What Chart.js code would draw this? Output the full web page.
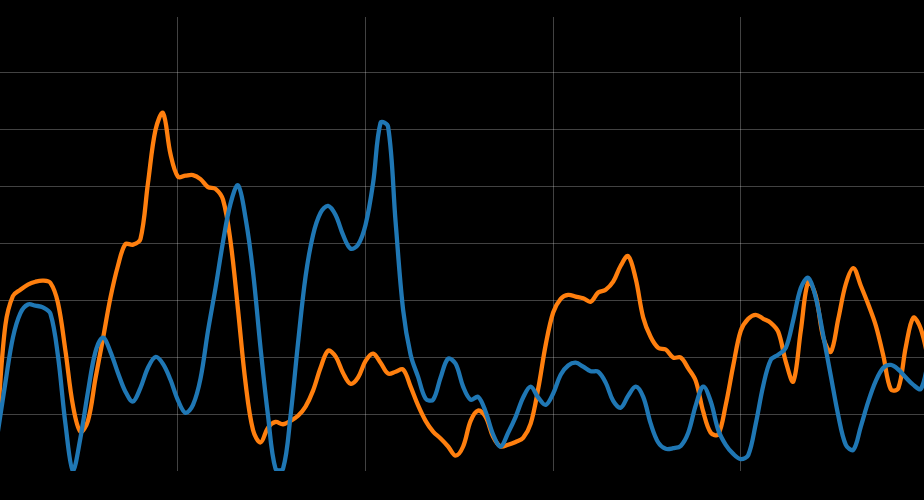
<!DOCTYPE html>
<html>
<head>
<meta charset="utf-8">
<script src="https://cdn.jsdelivr.net/npm/chart.js@4"></script>
<style>
  html, body { margin: 0; padding: 0; background: #000; }
  #wrap { width: 924px; height: 500px; }
</style>
</head>
<body>
<div id="wrap"><canvas id="lineChart" width="924" height="500"></canvas></div>
<script>
// time steps 1..125
const steps = Array.from({ length: 125 }, (_, i) => i + 1);

const blueSeries = [
  -3.30, -2.44, -1.65, -1.22, -1.07, -1.09, -1.12, -1.23, -1.97, -3.16,
  -3.99, -3.41, -2.60, -1.90, -1.65, -1.90, -2.27, -2.60, -2.77, -2.53,
  -2.18, -1.99, -2.11, -2.39, -2.75, -2.97, -2.83, -2.37, -1.53, -0.78,
  0.03, 0.70, 1.02, 0.45, -0.50, -1.83, -3.02, -3.95, -3.95, -3.02,
  -1.74, -0.58, 0.15, 0.54, 0.66, 0.50, 0.15, -0.09, -0.02, 0.33,
  1.06, 2.12, 2.05, 0.38, -1.16, -1.95, -2.34, -2.72, -2.74, -2.35,
  -2.02, -2.11, -2.51, -2.74, -2.69, -2.95, -3.35, -3.56, -3.32, -3.04,
  -2.70, -2.51, -2.70, -2.83, -2.63, -2.30, -2.14, -2.09, -2.16, -2.24,
  -2.25, -2.44, -2.76, -2.88, -2.67, -2.51, -2.69, -3.16, -3.49, -3.60,
  -3.59, -3.55, -3.32, -2.84, -2.51, -2.77, -3.27, -3.53, -3.69, -3.78,
  -3.71, -3.16, -2.49, -2.04, -1.95, -1.83, -1.34, -0.78, -0.60, -0.95,
  -1.62, -2.32, -3.02, -3.53, -3.62, -3.21, -2.77, -2.41, -2.18, -2.13,
  -2.21, -2.35, -2.48, -2.55, -2.07
];

const orangeSeries = [
  -3.00, -1.43, -0.92, -0.81, -0.72, -0.67, -0.65, -0.69, -1.04, -1.88,
  -2.84, -3.30, -3.11, -2.37, -1.67, -0.95, -0.39, -0.01, -0.02, 0.08,
  1.06, 1.99, 2.29, 1.57, 1.17, 1.19, 1.20, 1.13, 0.99, 0.96,
  0.77, 0.04, -1.16, -2.44, -3.27, -3.49, -3.23, -3.13, -3.17, -3.11,
  -3.02, -2.86, -2.58, -2.18, -1.88, -1.98, -2.27, -2.46, -2.35, -2.06,
  -1.93, -2.09, -2.28, -2.25, -2.21, -2.51, -2.84, -3.11, -3.30, -3.42,
  -3.56, -3.72, -3.56, -3.11, -2.93, -3.04, -3.39, -3.56, -3.53, -3.48,
  -3.41, -3.16, -2.55, -1.78, -1.21, -0.97, -0.90, -0.93, -0.96, -1.02,
  -0.86, -0.81, -0.67, -0.39, -0.22, -0.62, -1.30, -1.64, -1.83, -1.86,
  -2.00, -2.00, -2.19, -2.41, -2.95, -3.32, -3.35, -2.83, -2.14, -1.53,
  -1.32, -1.25, -1.32, -1.39, -1.55, -2.07, -2.42, -1.53, -0.67, -0.92,
  -1.65, -1.90, -1.32, -0.71, -0.43, -0.74, -1.07, -1.44, -1.97, -2.56,
  -2.54, -1.81, -1.30, -1.50, -2.04
];

const xTicks = [25, 50, 75, 100];
const yTicks = [-3, -2, -1, 0, 1, 2, 3];

const gridColor = "rgba(255,255,255,0.26)";

const ctx = document.getElementById("lineChart").getContext("2d");
const chart = new Chart(ctx, {
  type: "line",
  data: {
    datasets: [
      {
        data: steps.map((t, i) => ({ x: t, y: blueSeries[i] })),
        borderColor: "#1f77b4",
        borderWidth: 4.3,
        pointRadius: 0,
        tension: 0.35,
      },
      {
        data: steps.map((t, i) => ({ x: t, y: orangeSeries[i] })),
        borderColor: "#ff7f0e",
        borderWidth: 4.3,
        pointRadius: 0,
        tension: 0.35,
      },
    ],
  },
  options: {
    responsive: false,
    animation: false,
    layout: { padding: { top: 17, bottom: 29, left: 0, right: 0 } },
    plugins: {
      legend: { display: false },
      tooltip: { enabled: false },
    },
    scales: {
      x: {
        type: "linear",
        min: 1.28,
        max: 124.42,
        afterBuildTicks: (s) => { s.ticks = xTicks.map((v) => ({ value: v })); },
        ticks: { display: false },
        grid: { color: gridColor, lineWidth: 1, drawTicks: false },
        border: { display: false },
      },
      y: {
        min: -3.99,
        max: 3.973,
        afterBuildTicks: (s) => { s.ticks = yTicks.map((v) => ({ value: v })); },
        ticks: { display: false },
        grid: { color: gridColor, lineWidth: 1, drawTicks: false },
        border: { display: false },
      },
    },
  },
});
</script>
</body>
</html>
